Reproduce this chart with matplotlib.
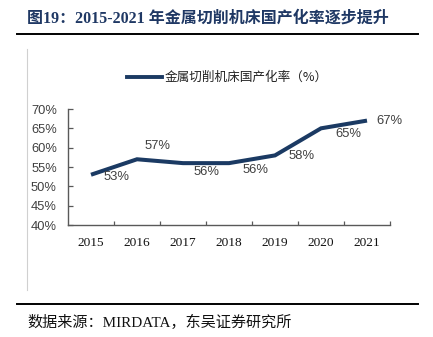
import matplotlib
matplotlib.use("Agg")
import matplotlib.pyplot as plt
from matplotlib.lines import Line2D
from matplotlib.ticker import FixedLocator, NullFormatter, FuncFormatter

# Data
years = ["2015", "2016", "2017", "2018", "2019", "2020", "2021"]
rates = [53, 57, 56, 56, 58, 65, 67]
y_ticks = [40, 45, 50, 55, 60, 65, 70]

title = "图19：2015-2021 年金属切削机床国产化率逐步提升"
series_name = "金属切削机床国产化率（%）"
source = "数据来源：MIRDATA，东吴证券研究所"

# Label offsets in pixels (dx right, dy down)
label_offsets = [(26, 2), (21, -13), (24, 9), (27, 7), (27, 1), (27, 6), (22, 0)]

W, H = 433, 337
DPI = 100
fig = plt.figure(figsize=(W / DPI, H / DPI), dpi=DPI)
fig.patch.set_facecolor("white")


def fx(px):
    return px / W


def fy(py):
    return 1 - py / H


navy = "#1F3864"
line_color = "#1B3A63"
text_gray = "#404040"
cjk_serif = ["Liberation Serif", "Noto Sans CJK SC"]

# Header and footer
fig.text(fx(27), fy(19), title, fontsize=11.5, fontweight="bold", color=navy,
         family=cjk_serif, ha="left", va="center")
fig.add_artist(Line2D([fx(17), fx(418)], [fy(34), fy(34)], color="black", lw=1.4))
fig.add_artist(Line2D([fx(17), fx(418)], [fy(303.5), fy(303.5)], color="black", lw=1.4))
fig.add_artist(Line2D([fx(27), fx(27)], [fy(49), fy(290)], color="#D0D0D0", lw=0.8))
fig.text(fx(27), fy(322), source, fontsize=10.9, color="#111111",
         family=cjk_serif, ha="left", va="center")

# Legend
fig.add_artist(Line2D([fx(127), fx(162)], [fy(77), fy(77)], color=line_color, lw=2.8))
fig.text(fx(165), fy(77), series_name, fontsize=9.1, color="#222222",
         family=["Noto Sans CJK SC"], ha="left", va="center")

# Plot area
ax = fig.add_axes([fx(68), fy(225), fx(390) - fx(68), fy(109) - fy(225)])
x = list(range(len(years)))
ax.plot(x, rates, color=line_color, lw=2.9, solid_capstyle="butt",
        solid_joinstyle="miter")
ax.set_xlim(-0.5, len(years) - 0.5)
ax.set_ylim(y_ticks[0], y_ticks[-1])

for spine in ["top", "right"]:
    ax.spines[spine].set_visible(False)
for spine in ["left", "bottom"]:
    ax.spines[spine].set_color("#595959")
    ax.spines[spine].set_linewidth(1.0)

ax.set_yticks(y_ticks)
ax.yaxis.set_major_formatter(FuncFormatter(lambda v, p: f"{int(v)}%"))
ax.tick_params(axis="y", direction="in", length=3.5, width=0.9, color="#595959",
               labelsize=9.3, labelcolor=text_gray, pad=8)
for lbl in ax.get_yticklabels():
    lbl.set_family("Liberation Sans")

ax.xaxis.set_major_locator(FixedLocator([i + 0.5 for i in x]))
ax.xaxis.set_major_formatter(NullFormatter())
ax.xaxis.set_minor_locator(FixedLocator(x))
ax.set_xticks(x, years, minor=True)
ax.tick_params(axis="x", which="major", direction="in", length=3, width=0.9,
               color="#595959")
ax.tick_params(axis="x", which="minor", length=0, labelsize=9.6,
               labelcolor="#111111", pad=9)
for lbl in ax.get_xticklabels(minor=True):
    lbl.set_family("Liberation Serif")

# Value labels
for xi, v, (dx, dy) in zip(x, rates, label_offsets):
    ax.annotate(f"{v}%", (xi, v), xytext=(dx * 0.72, -dy * 0.72),
                textcoords="offset points", ha="center", va="center",
                fontsize=9.4, color=text_gray, family="Liberation Sans")

fig.savefig("out.png", dpi=DPI)
